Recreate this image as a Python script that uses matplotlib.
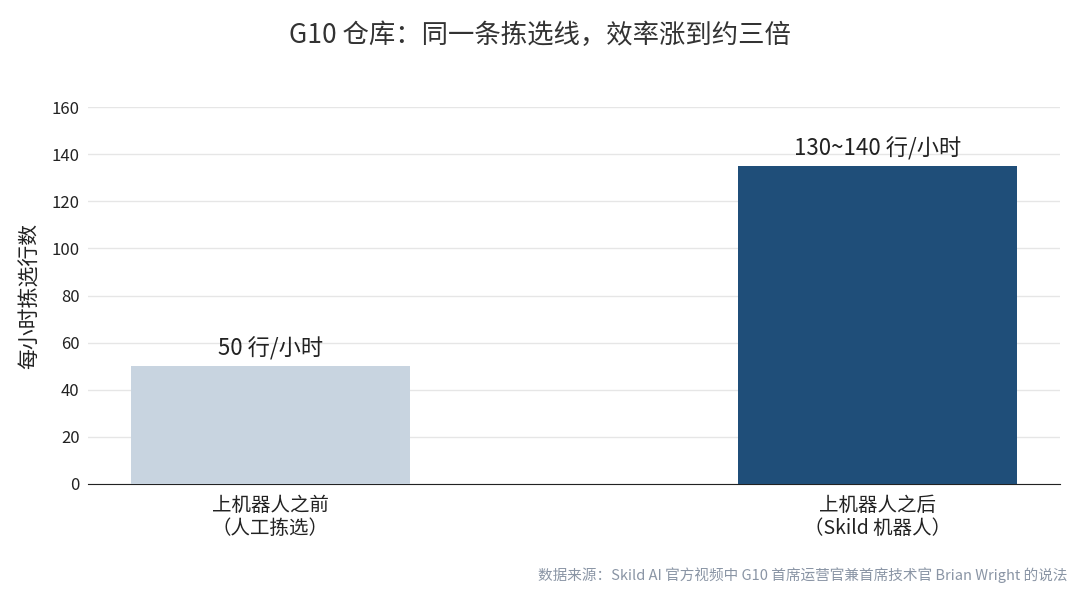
import numpy as np
import matplotlib
matplotlib.use('Agg')
import matplotlib.pyplot as plt

plt.rcParams['font.family'] = ['Noto Sans CJK SC', 'DejaVu Sans']

categories = ['上机器人之前\n（人工拣选）', '上机器人之后\n（Skild 机器人）']
values = [50, 135]
value_labels = ['50 行/小时', '130~140 行/小时']
colors = ['#c8d4e0', '#1f4e79']

fig = plt.figure(figsize=(10.8, 5.91), dpi=100)
ax = fig.add_axes([88/1080, 1-484/591, 972/1080, 377/591])

x = np.arange(len(categories))
ax.bar(x, values, width=0.46, color=colors, zorder=3)
for xi, v, lab in zip(x, values, value_labels):
    ax.text(xi, v + 2.5, lab, ha='center', va='bottom', fontsize=16, color='#222222')

ax.set_xlim(-0.30, 1.30)
ax.set_ylim(0, 160)
ax.set_yticks(range(0, 161, 20))
ax.set_xticks(x)
ax.set_xticklabels(categories, fontsize=14, color='#222222', linespacing=1.1)
ax.tick_params(axis='y', labelsize=12, length=0, colors='#222222', pad=6)
ax.tick_params(axis='x', length=0, pad=8)
ax.grid(axis='y', color='#e6e6e6', linewidth=1, zorder=0)
for s in ['top', 'right', 'left']:
    ax.spines[s].set_visible(False)
ax.spines['bottom'].set_color('#222222')
ax.set_ylabel('每小时拣选行数', fontsize=15, color='#222222', labelpad=8)

fig.text(0.5, 1-35/591, 'G10 仓库：同一条拣选线，效率涨到约三倍', ha='center', va='center',
         fontsize=19, color='#333333')
fig.text(1068/1080, 1-575/591, '数据来源：Skild AI 官方视频中 G10 首席运营官兼首席技术官 Brian Wright 的说法',
         ha='right', va='center', fontsize=10.5, color='#8a95a5')

fig.savefig('out.png', dpi=100)
